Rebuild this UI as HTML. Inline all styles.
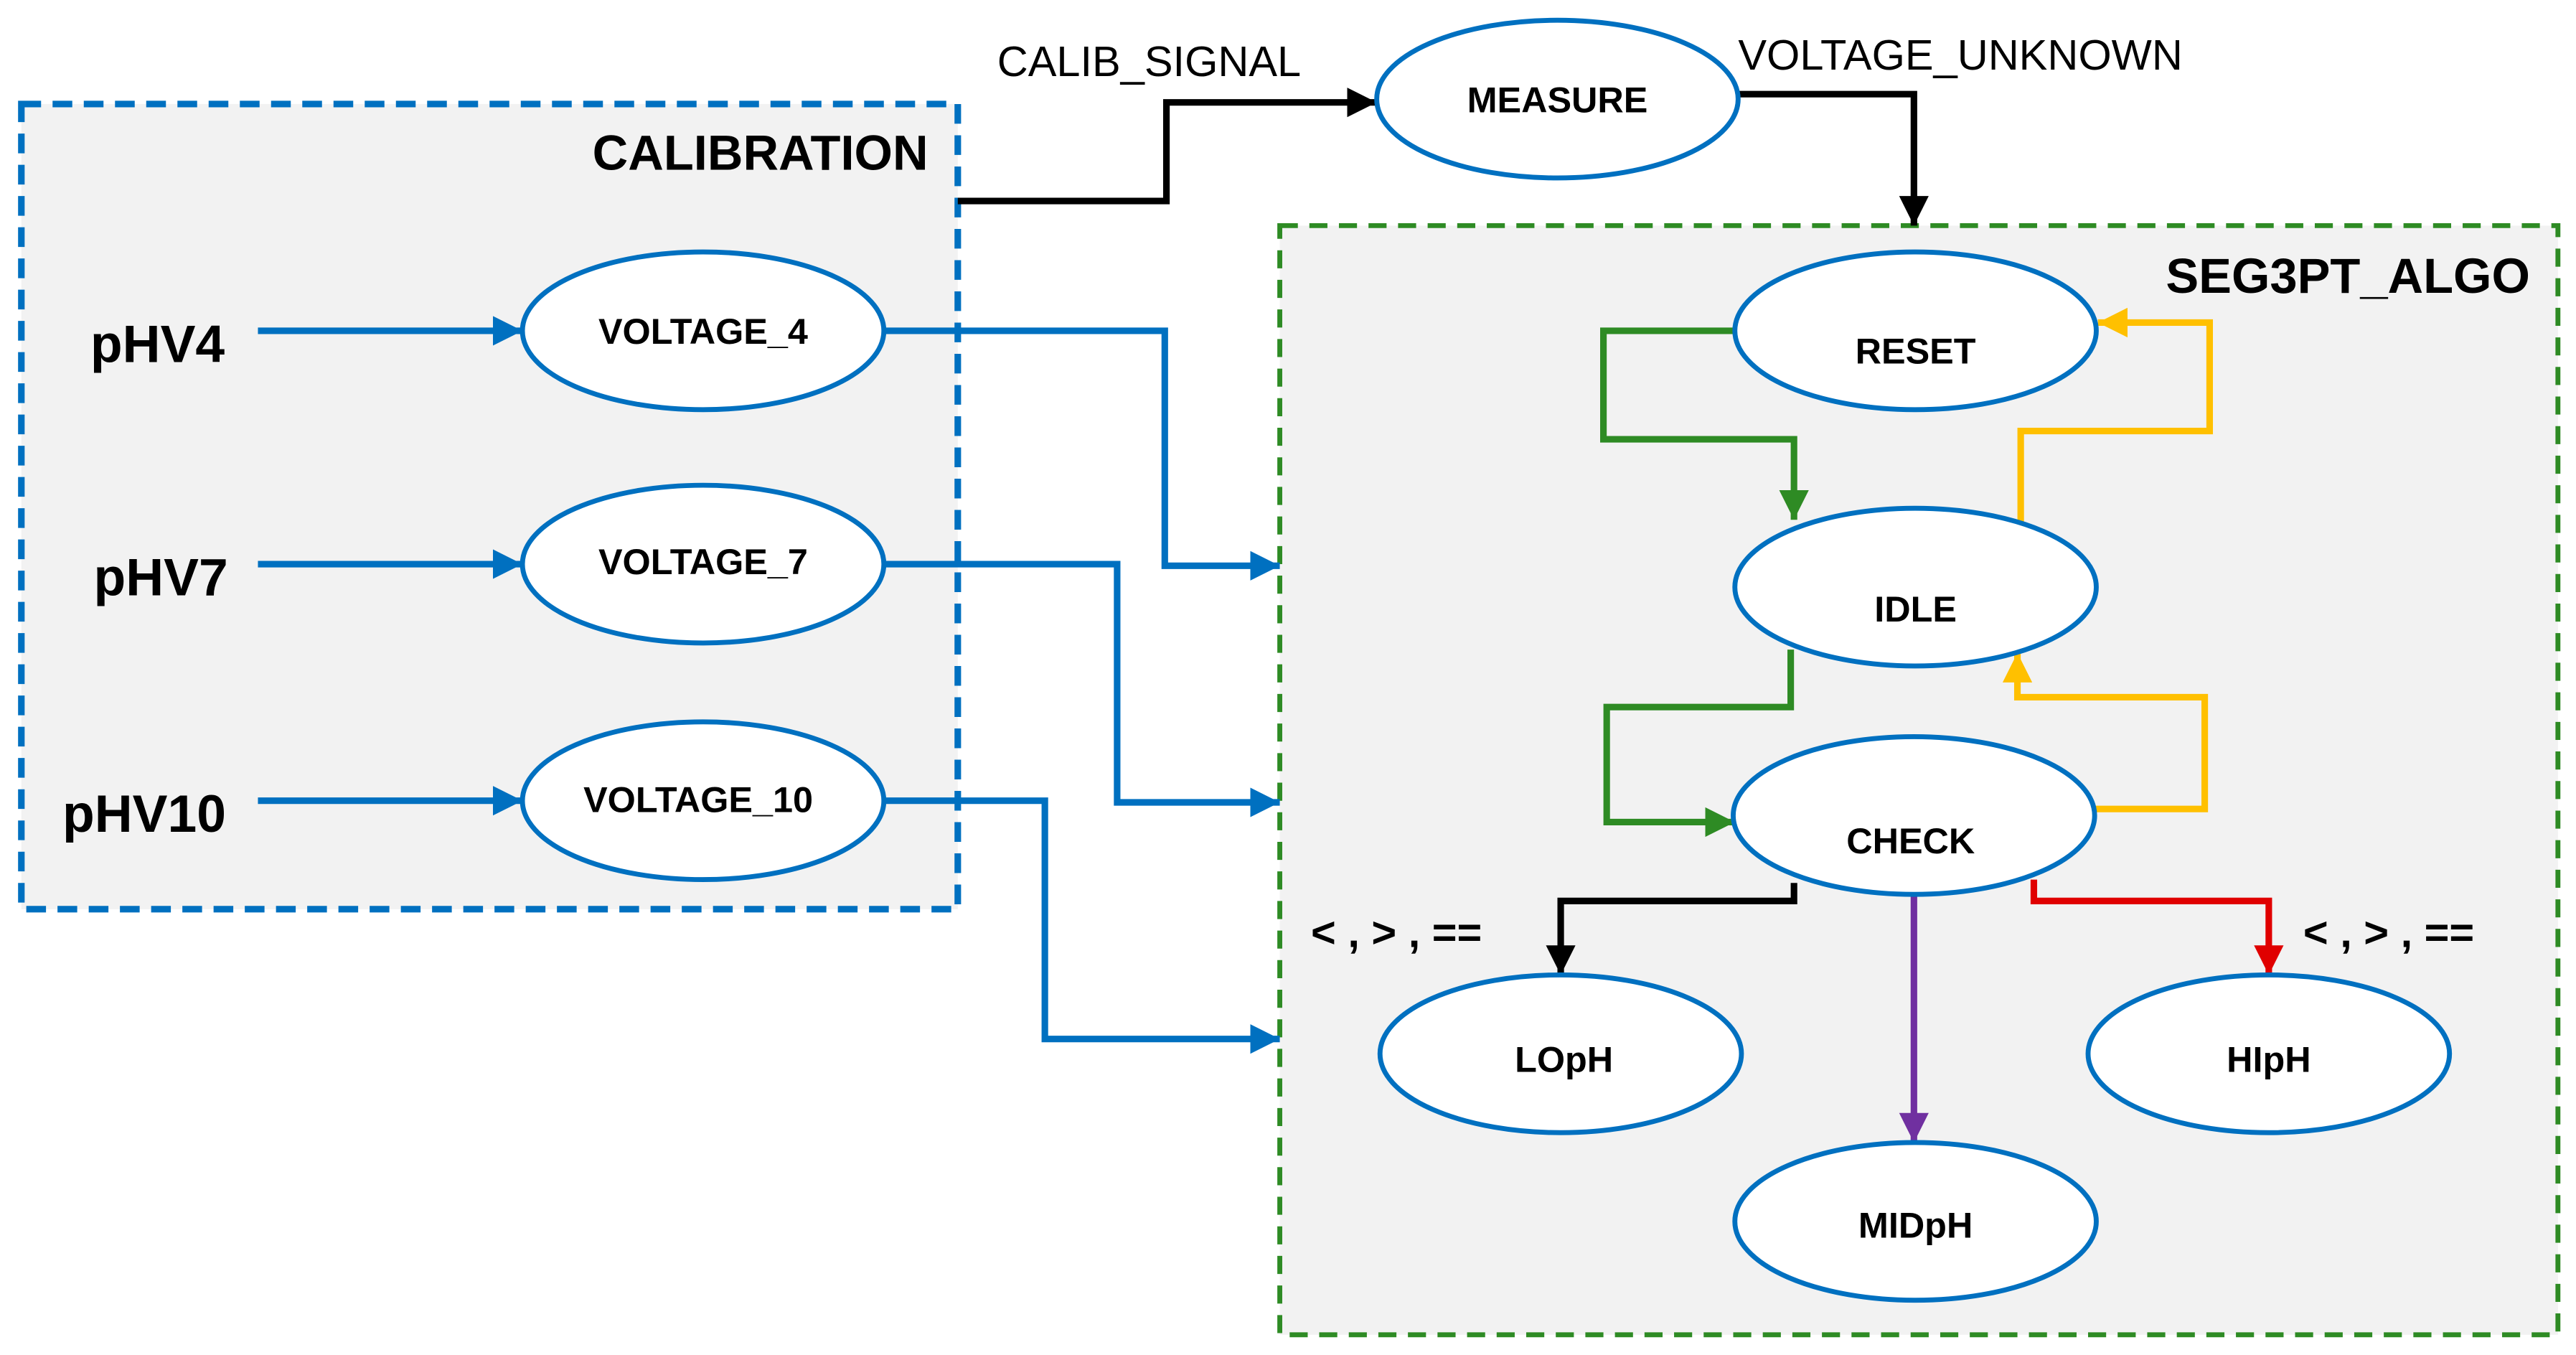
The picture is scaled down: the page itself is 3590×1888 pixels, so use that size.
<!DOCTYPE html>
<html><head><meta charset="utf-8"><style>
html,body{margin:0;padding:0;background:#fff;}
svg{display:block;}
text{font-family:"Liberation Sans",sans-serif;}
</style></head><body>
<svg width="3590" height="1888" viewBox="0 0 1568 824" xmlns="http://www.w3.org/2000/svg">
<defs>
<marker id="ab" markerWidth="18" markerHeight="18" refX="8" refY="4" orient="auto" markerUnits="userSpaceOnUse" viewBox="0 0 8 8"><path d="M0,0 L8,4 L0,8z" fill="#0070c0"/></marker>
<marker id="ak" markerWidth="18" markerHeight="18" refX="8" refY="4" orient="auto" markerUnits="userSpaceOnUse" viewBox="0 0 8 8"><path d="M0,0 L8,4 L0,8z" fill="#000"/></marker>
<marker id="ag" markerWidth="18" markerHeight="18" refX="8" refY="4" orient="auto" markerUnits="userSpaceOnUse" viewBox="0 0 8 8"><path d="M0,0 L8,4 L0,8z" fill="#2e8b24"/></marker>
<marker id="ay" markerWidth="18" markerHeight="18" refX="8" refY="4" orient="auto" markerUnits="userSpaceOnUse" viewBox="0 0 8 8"><path d="M0,0 L8,4 L0,8z" fill="#ffc000"/></marker>
<marker id="ar" markerWidth="18" markerHeight="18" refX="8" refY="4" orient="auto" markerUnits="userSpaceOnUse" viewBox="0 0 8 8"><path d="M0,0 L8,4 L0,8z" fill="#e00000"/></marker>
<marker id="ap" markerWidth="18" markerHeight="18" refX="8" refY="4" orient="auto" markerUnits="userSpaceOnUse" viewBox="0 0 8 8"><path d="M0,0 L8,4 L0,8z" fill="#7030a0"/></marker>
</defs>
<rect x="13" y="63" width="570" height="490" fill="#f2f2f2" stroke="#0070c0" stroke-width="4" stroke-dasharray="12,7"/>
<rect x="779" y="137" width="778" height="675" fill="#f2f2f2" stroke="#2e8b24" stroke-width="3" stroke-dasharray="11,7"/>
<text x="565" y="103" font-size="30" font-weight="bold" text-anchor="end">CALIBRATION</text>
<text x="1540" y="178" font-size="30" font-weight="bold" text-anchor="end">SEG3PT_ALGO</text>
<text x="607" y="46" font-size="26">CALIB_SIGNAL</text>
<text x="1058" y="42" font-size="26">VOLTAGE_UNKNOWN</text>
<g fill="none" stroke-width="4">
<path d="M583,122 H710 V62 H838" stroke="#000" marker-end="url(#ak)"/>
<path d="M1058,57 H1165 V137" stroke="#000" marker-end="url(#ak)"/>
<path d="M157,201 H318" stroke="#0070c0" marker-end="url(#ab)"/>
<path d="M157,343 H318" stroke="#0070c0" marker-end="url(#ab)"/>
<path d="M157,487 H318" stroke="#0070c0" marker-end="url(#ab)"/>
<path d="M538,201 H709 V344 H779" stroke="#0070c0" marker-end="url(#ab)"/>
<path d="M538,343 H680 V488 H779" stroke="#0070c0" marker-end="url(#ab)"/>
<path d="M538,487 H636 V632 H779" stroke="#0070c0" marker-end="url(#ab)"/>
<path d="M1055,201 H976 V267 H1092 V316" stroke="#2e8b24" marker-end="url(#ag)"/>
<path d="M1090,395 V430 H978 V500 H1056" stroke="#2e8b24" marker-end="url(#ag)"/>
<path d="M1230,318 V262 H1345 V196 H1277" stroke="#ffc000" marker-end="url(#ay)"/>
<path d="M1275,492 H1342 V424 H1228 V397" stroke="#ffc000" marker-end="url(#ay)"/>
<path d="M1092,537 V548 H950 V593" stroke="#000" marker-end="url(#ak)"/>
<path d="M1165,545 V695" stroke="#7030a0" marker-end="url(#ap)"/>
<path d="M1238,535 V548 H1381 V593" stroke="#e00000" marker-end="url(#ar)"/>
</g>
<g fill="#fff" stroke="#0070c0" stroke-width="3">
<ellipse cx="948" cy="60" rx="110" ry="48"/>
<ellipse cx="428" cy="201" rx="110" ry="48"/>
<ellipse cx="428" cy="343" rx="110" ry="48"/>
<ellipse cx="428" cy="487" rx="110" ry="48"/>
<ellipse cx="1166" cy="201" rx="110" ry="48"/>
<ellipse cx="1166" cy="357" rx="110" ry="48"/>
<ellipse cx="1165" cy="496" rx="110" ry="48"/>
<ellipse cx="950" cy="641" rx="110" ry="48"/>
<ellipse cx="1381" cy="641" rx="110" ry="48"/>
<ellipse cx="1166" cy="743" rx="110" ry="48"/>
</g>
<g font-size="22" font-weight="bold" text-anchor="middle">
<text x="948" y="68">MEASURE</text>
<text x="428" y="209">VOLTAGE_4</text>
<text x="428" y="349">VOLTAGE_7</text>
<text x="425" y="494">VOLTAGE_10</text>
<text x="1166" y="221">RESET</text>
<text x="1166" y="378">IDLE</text>
<text x="1163" y="519">CHECK</text>
<text x="952" y="652">LOpH</text>
<text x="1381" y="652">HIpH</text>
<text x="1166" y="753">MIDpH</text>
</g>
<g font-size="32" font-weight="bold">
<text x="55" y="220">pHV4</text>
<text x="57" y="362">pHV7</text>
<text x="38" y="506">pHV10</text>
</g>
<g font-size="26" font-weight="bold">
<text x="798" y="576">&lt; , &gt; , ==</text>
<text x="1402" y="576">&lt; , &gt; , ==</text>
</g>
</svg>
</body></html>
